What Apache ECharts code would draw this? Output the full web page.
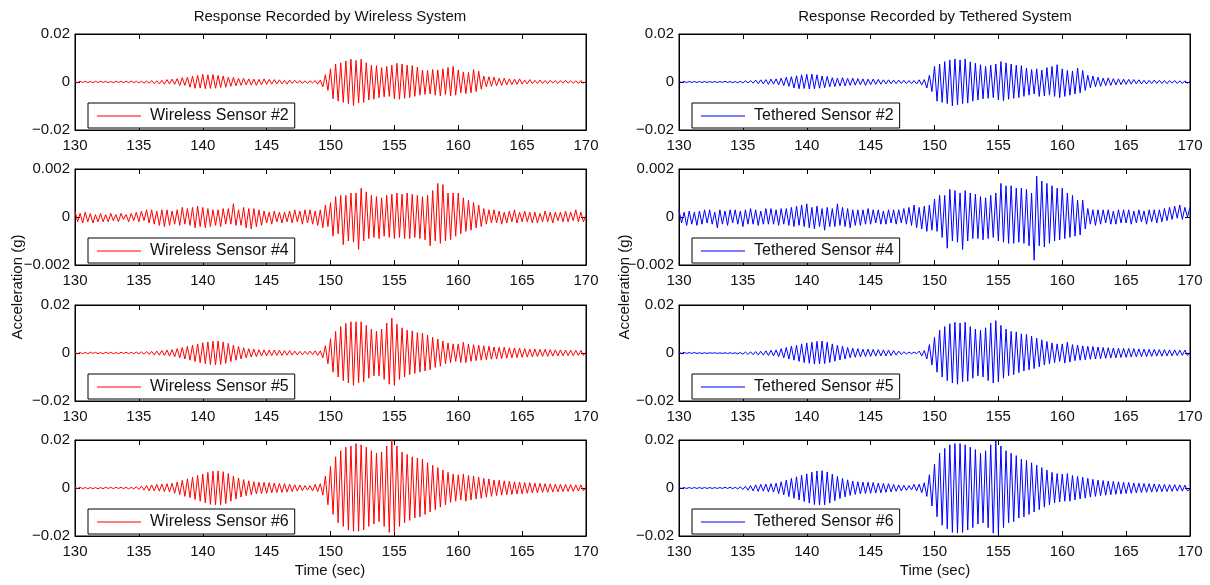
<!DOCTYPE html>
<html><head><meta charset="utf-8">
<script src="https://cdn.jsdelivr.net/npm/echarts@6/dist/echarts.min.js"></script>
<style>html,body{margin:0;padding:0;background:#fff}#c{width:1210px;height:585px}</style>
</head><body><div id="c"></div>
<script>
// Sampling grid of the records (seconds)
const timeStart = 130, timeStep = 0.2;
const xTickLabels = [130, 135, 140, 145, 150, 155, 160, 165, 170];
const yTicksLarge = [-0.02, 0, 0.02];
const yTicksSmall = [-0.002, 0, 0.002];
const MG = 0.001; // values below are in milli-g

const wireless2 = [
 0.2,-0.3,0.3,-0.2,0.3, -0.3,0.2,-0.3,0.3,-0.2, 0.3,-0.2,0.3,-0.3,0.2, -0.3,0.3,-0.2,0.3,-0.3,
 0.3,-0.3,0.4,-0.3,0.3, -0.4,0.3,-0.5,0.4,-0.5, 0.6,-0.7,0.5,-0.8,0.7, -0.9,1.0,-0.8,1.2,-1.0,
 1.4,-1.5,1.8,-1.4,2.0, -2.2,2.4,-2.6,2.8,-2.5, 3.2,-2.8,3.0,-2.7,3.1, -2.6,2.7,-2.3,2.5,-2.2,
 2.0,-1.8,1.9,-1.6,1.5, -1.4,1.5,-1.2,1.3,-1.3, 1.2,-1.4,1.1,-1.2,1.3, -1.0,1.1,-0.9,1.0,-0.8,
 0.9,-0.8,0.7,-0.9,0.8, -0.6,0.7,-0.5,0.6,-0.6, 0.5,-0.6,0.5,-0.4,0.6, -0.9,0.8,-2.0,3.0,-3.5,
 5.5,-7.0,7.5,-8.0,8.0, -8.5,8.8,-9.0,9.5,-9.8, 9.0,-8.8,9.5,-8.5,8.0, -7.5,7.0,-7.2,6.8,-6.5,
 6.0,-6.2,6.5,-6.0,7.0, -7.0,7.8,-7.2,7.5,-6.8, 7.0,-6.5,6.8,-6.0,6.2, -5.5,5.0,-5.2,4.8,-5.0,
 5.2,-5.5,5.0,-5.8,5.5, -5.2,6.0,-5.8,6.5,-5.5, 5.0,-4.5,4.2,-4.8,4.0, -4.5,5.2,-4.0,4.5,-3.0,
 2.5,-2.0,2.2,-1.8,2.0, -1.6,1.5,-1.4,1.6,-1.2, 1.3,-1.1,1.2,-1.0,1.3, -0.9,0.8,-0.8,1.0,-0.7,
 0.7,-0.6,0.8,-0.6,0.6, -0.6,0.7,-0.5,0.6,-0.6, 0.6,-0.5,0.7,-0.5,0.5, -0.6,0.5,-0.6,0.6,-0.5,
 0.3];
const tethered2 = [
 0.2,-0.2,0.2,-0.2,0.2, -0.2,0.2,-0.2,0.2,-0.2, 0.2,-0.2,0.2,-0.2,0.2, -0.2,0.2,-0.2,0.3,-0.2,
 0.2,-0.3,0.2,-0.3,0.3, -0.4,0.5,-0.4,0.6,-0.5, 0.8,-0.7,0.9,-0.8,1.0, -1.0,1.2,-0.9,1.3,-1.2,
 1.6,-1.5,2.0,-1.8,2.2, -2.5,2.6,-2.8,3.0,-2.7, 3.2,-2.9,3.3,-2.8,3.0, -2.6,2.5,-2.4,2.3,-2.0,
 1.8,-1.9,1.6,-1.7,1.8, -1.6,1.5,-1.4,1.6,-1.3, 1.4,-1.2,1.3,-1.4,1.2, -1.1,1.2,-1.0,1.1,-0.9,
 0.9,-0.8,0.9,-0.7,0.8, -0.7,0.8,-0.6,0.7,-0.7, 0.6,-0.7,0.6,-0.8,0.9, -1.2,1.0,-2.5,2.8,-4.0,
 6.5,-8.0,7.5,-8.5,8.5, -9.0,9.2,-10.0,9.6,-9.5, 9.2,-9.0,9.6,-8.8,8.4, -8.0,7.8,-7.5,7.2,-7.0,
 6.5,-6.8,7.0,-6.5,7.5, -7.5,8.5,-7.8,8.0,-7.2, 7.5,-6.8,7.0,-6.5,6.8, -6.0,5.8,-5.5,5.2,-5.0,
 5.5,-6.0,5.0,-5.8,6.0, -5.5,6.5,-6.0,7.2,-6.5, 5.5,-6.0,4.8,-5.5,4.5, -5.0,5.8,-4.5,4.8,-3.5,
 2.8,-2.4,2.5,-2.0,2.0, -1.8,1.6,-1.5,1.7,-1.4, 1.4,-1.2,1.3,-1.1,1.2, -1.0,1.1,-0.9,1.0,-0.8,
 0.9,-0.8,0.7,-0.8,0.7, -0.7,0.8,-0.6,0.7,-0.6, 0.6,-0.7,0.6,-0.5,0.6, -0.6,0.5,-0.6,0.5,-0.5,
 0.2];
const wireless4 = [
 0.25,-0.2,0.15,-0.25,0.2, -0.2,0.15,-0.25,0.1,-0.2, 0.15,-0.2,0.1,-0.2,0.15, -0.15,0.1,-0.2,0.15,-0.1,
 0.1,-0.2,0.15,-0.15,0.2, -0.2,0.25,-0.15,0.3,-0.25, 0.3,-0.3,0.25,-0.35,0.3, -0.4,0.3,-0.35,0.25,-0.3,
 0.3,-0.35,0.4,-0.3,0.35, -0.35,0.4,-0.45,0.45,-0.4, 0.4,-0.45,0.35,-0.4,0.3, -0.35,0.3,-0.4,0.35,-0.3,
 0.35,-0.3,0.55,-0.35,0.3, -0.35,0.4,-0.45,0.35,-0.5, 0.35,-0.4,0.3,-0.35,0.25, -0.25,0.2,-0.3,0.25,-0.2,
 0.2,-0.25,0.2,-0.2,0.25, -0.25,0.3,-0.2,0.25,-0.3, 0.3,-0.25,0.3,-0.3,0.25, -0.35,0.3,-0.45,0.5,-0.4,
 0.6,-0.8,0.85,-0.7,0.9, -1.15,0.9,-1.0,1.0,-1.05, 1.0,-1.35,1.2,-1.0,1.05, -0.9,0.9,-0.85,0.85,-0.9,
 0.8,-0.8,0.9,-0.85,0.95, -0.9,1.0,-0.85,0.95,-0.9, 1.0,-0.9,0.95,-0.85,0.9, -0.9,0.85,-0.95,0.9,-1.2,
 1.1,-1.0,1.4,-1.1,1.35, -1.0,1.0,-0.95,1.0,-0.8, 1.0,-0.7,0.8,-0.6,0.7, -0.55,0.6,-0.45,0.5,-0.4,
 0.35,-0.3,0.3,-0.25,0.3, -0.25,0.25,-0.3,0.2,-0.25, 0.25,-0.2,0.3,-0.25,0.2, -0.2,0.25,-0.2,0.2,-0.25,
 0.2,-0.25,0.15,-0.2,0.25, -0.2,0.2,-0.25,0.2,-0.15, 0.2,-0.2,0.25,-0.2,0.2, -0.15,0.3,-0.2,0.2,-0.2,
 0.1];
const tethered4 = [
 0.3,-0.25,0.2,-0.35,0.25, -0.3,0.2,-0.35,0.25,-0.3, 0.3,-0.25,0.3,-0.3,0.2, -0.45,0.3,-0.3,0.25,-0.35,
 0.3,-0.25,0.3,-0.3,0.25, -0.4,0.3,-0.3,0.35,-0.3, 0.3,-0.35,0.25,-0.3,0.35, -0.3,0.35,-0.3,0.3,-0.35,
 0.35,-0.3,0.35,-0.35,0.4, -0.4,0.45,-0.35,0.5,-0.4, 0.55,-0.45,0.4,-0.5,0.45, -0.4,0.35,-0.55,0.4,-0.4,
 0.35,-0.4,0.55,-0.35,0.4, -0.4,0.35,-0.45,0.3,-0.35, 0.3,-0.35,0.3,-0.3,0.35, -0.3,0.3,-0.25,0.3,-0.3,
 0.25,-0.3,0.3,-0.25,0.3, -0.3,0.3,-0.25,0.35,-0.3, 0.4,-0.35,0.5,-0.45,0.4, -0.5,0.45,-0.6,0.5,-0.55,
 0.75,-0.6,0.9,-0.85,0.9, -1.3,1.15,-1.0,1.1,-1.05, 1.0,-1.35,1.1,-1.0,1.0, -0.9,0.95,-0.9,0.85,-0.95,
 0.8,-0.9,0.9,-0.85,1.0, -1.0,1.4,-1.05,1.3,-1.1, 1.3,-1.1,1.2,-1.05,1.2, -1.1,1.15,-1.2,1.0,-1.8,
 1.7,-1.2,1.5,-1.25,1.4, -1.1,1.3,-1.0,1.2,-0.95, 1.2,-0.9,1.0,-0.85,0.9, -0.8,0.7,-0.75,0.7,-0.5,
 0.35,-0.3,0.3,-0.35,0.3, -0.3,0.3,-0.25,0.3,-0.3, 0.25,-0.3,0.3,-0.25,0.3, -0.25,0.3,-0.3,0.25,-0.25,
 0.3,-0.2,0.25,-0.3,0.3, -0.2,0.3,-0.25,0.3,-0.2, 0.35,-0.15,0.4,-0.1,0.45, -0.05,0.5,-0.1,0.4,0.0,
 0.4];
const wireless5 = [
 0.3,-0.3,0.2,-0.3,0.3, -0.3,0.3,-0.2,0.3,-0.3, 0.2,-0.3,0.3,-0.2,0.3, -0.3,0.2,-0.3,0.3,-0.2,
 0.3,-0.3,0.3,-0.3,0.4, -0.4,0.5,-0.5,0.6,-0.6, 0.7,-0.8,0.8,-0.9,1.0, -1.0,1.2,-1.3,1.4,-1.6,
 1.8,-2.0,2.3,-2.5,2.8, -3.0,3.3,-3.6,3.8,-4.0, 4.3,-4.5,4.6,-4.8,4.9, -5.0,5.0,-4.8,4.6,-4.3,
 4.0,-3.6,3.3,-3.0,2.7, -2.5,2.2,-2.0,1.8,-1.7, 1.6,-1.5,1.4,-1.3,1.3, -1.2,1.2,-1.1,1.2,-1.0,
 1.1,-1.0,1.0,-0.9,1.0, -0.9,0.8,-0.8,0.7,-0.8, 0.7,-0.6,0.8,-0.7,0.9, -1.0,0.9,-2.0,3.0,-4.5,
 6.0,-8.0,9.0,-10.0,11.0, -11.5,12.3,-12.5,13.0,-13.5, 13.0,-12.5,13.0,-12.0,11.5, -10.5,10.0,-9.5,9.0,-9.5,
 10.0,-11.0,12.5,-13.0,14.5, -13.5,12.0,-11.0,10.5,-10.0, 9.5,-9.0,9.2,-8.5,8.5, -8.0,8.2,-7.5,7.5,-7.0,
 6.5,-6.0,5.8,-5.5,5.0, -4.5,4.2,-4.0,3.8,-3.5, 3.8,-4.0,4.5,-4.0,3.8, -3.5,3.5,-3.2,3.3,-3.0,
 3.0,-2.8,2.8,-2.6,2.5, -2.5,2.4,-2.3,2.4,-2.2, 2.2,-2.0,2.1,-1.9,2.0, -1.8,1.8,-1.7,1.6,-1.6,
 1.6,-1.5,1.5,-1.4,1.5, -1.4,1.4,-1.3,1.3,-1.2, 1.3,-1.2,1.2,-1.1,1.2, -1.1,1.1,-1.0,1.1,-1.0,
 0.5];
const tethered5 = [
 0.3,-0.2,0.3,-0.2,0.2, -0.2,0.2,-0.2,0.1,-0.2, 0.1,-0.2,0.1,-0.1,0.1, -0.2,0.1,-0.2,0.1,-0.2,
 0.1,-0.2,0.1,-0.3,0.2, -0.5,0.4,-0.6,0.5,-0.7, 0.6,-0.8,0.7,-0.9,0.9, -1.0,1.1,-1.2,1.3,-1.5,
 1.8,-2.0,2.3,-2.5,2.8, -3.0,3.2,-3.5,3.8,-4.0, 4.2,-4.3,4.5,-4.6,4.8, -4.5,5.0,-4.4,4.5,-4.0,
 3.8,-3.4,3.2,-2.9,2.8, -2.5,2.3,-2.0,2.0,-1.8, 1.8,-1.6,1.6,-1.5,1.6, -1.4,1.5,-1.3,1.4,-1.2,
 1.3,-1.2,1.2,-1.1,1.0, -0.9,0.8,-0.6,0.5,-0.4, 0.4,-0.3,0.4,-0.3,0.8, -1.2,1.0,-2.5,3.5,-5.0,
 6.5,-8.0,9.5,-10.0,11.0, -11.5,12.2,-12.5,12.8,-13.0, 12.5,-12.0,12.8,-11.8,11.0, -10.5,10.0,-9.5,9.5,-10.0,
 10.5,-11.5,12.5,-12.5,13.5, -12.0,11.5,-10.5,10.0,-9.5, 9.0,-9.0,8.8,-8.2,8.0, -7.5,7.8,-7.0,7.0,-6.5,
 6.2,-5.8,5.5,-5.0,4.8, -4.5,4.2,-4.0,3.8,-3.5, 3.8,-4.2,4.5,-3.8,3.5, -3.2,3.3,-3.0,3.0,-2.8,
 2.8,-2.6,2.7,-2.5,2.5, -2.4,2.3,-2.2,2.2,-2.1, 2.1,-2.0,2.0,-1.9,1.9, -1.8,1.9,-1.7,1.8,-1.6,
 1.7,-1.5,1.6,-1.5,1.5, -1.4,1.5,-1.3,1.4,-1.3, 1.4,-1.2,1.3,-1.2,1.3, -1.1,1.2,-1.0,1.2,-1.0,
 0.3];
const wireless6 = [
 0.3,-0.2,0.3,-0.3,0.2, -0.3,0.2,-0.3,0.2,-0.3, 0.2,-0.3,0.3,-0.2,0.3, -0.3,0.3,-0.2,0.3,-0.3,
 0.3,-0.4,0.3,-0.4,0.5, -0.6,0.8,-0.9,1.0,-1.2, 1.3,-1.2,1.5,-1.3,1.6, -1.5,1.8,-1.6,2.0,-2.2,
 2.5,-2.8,3.2,-3.5,3.8, -4.0,4.5,-4.8,5.2,-5.5, 5.8,-6.2,6.5,-6.8,7.0, -7.0,7.1,-7.0,6.8,-6.5,
 6.0,-5.5,5.0,-4.6,4.2, -3.8,3.5,-3.2,3.0,-2.8, 2.6,-2.5,2.4,-2.3,2.3, -2.2,2.2,-2.0,2.1,-1.9,
 1.9,-1.8,1.8,-1.7,1.6, -1.5,1.4,-1.3,1.2,-1.1, 1.0,-0.9,1.0,-1.2,1.5, -1.5,1.8,-3.0,5.0,-7.0,
 9.0,-11.0,13.0,-14.5,15.5, -16.0,17.0,-17.5,17.5,-18.0, 18.5,-18.0,18.0,-17.5,17.0, -16.0,15.5,-15.0,14.5,-14.0,
 15.0,-16.0,17.5,-18.5,20.0, -18.5,17.5,-16.0,15.0,-14.5, 14.0,-13.5,13.0,-12.5,12.5, -12.0,12.0,-11.0,10.5,-10.0,
 9.5,-9.0,8.5,-8.0,7.5, -7.0,6.5,-6.0,5.8,-5.5, 5.5,-5.0,5.8,-5.5,5.2, -5.0,5.0,-4.6,4.5,-4.3,
 4.0,-3.8,3.8,-3.5,3.3, -3.2,3.2,-3.0,3.0,-2.8, 2.8,-2.7,2.6,-2.5,2.5, -2.4,2.3,-2.2,2.2,-2.1,
 2.0,-2.0,1.9,-1.8,1.8, -1.8,1.7,-1.7,1.6,-1.6, 1.5,-1.5,1.5,-1.4,1.4, -1.4,1.3,-1.3,1.3,-1.2,
 0.5];
const tethered6 = [
 0.2,-0.2,0.2,-0.2,0.2, -0.2,0.2,-0.2,0.2,-0.2, 0.2,-0.2,0.2,-0.2,0.2, -0.2,0.2,-0.2,0.3,-0.2,
 0.3,-0.3,0.3,-0.4,0.5, -0.6,0.7,-0.9,1.0,-1.2, 1.3,-1.4,1.5,-1.3,1.6, -1.6,1.8,-1.7,2.0,-2.3,
 2.6,-2.9,3.3,-3.6,4.0, -4.3,4.7,-5.0,5.3,-5.6, 5.9,-6.3,6.6,-6.9,7.1, -7.1,7.2,-7.0,6.7,-6.3,
 5.8,-5.3,4.8,-4.4,4.0, -3.7,3.4,-3.1,2.9,-2.7, 2.6,-2.5,2.5,-2.3,2.4, -2.2,2.3,-2.1,2.1,-2.0,
 1.9,-1.8,1.8,-1.6,1.5, -1.4,1.3,-1.2,1.1,-1.0, 1.0,-0.8,1.5,-1.2,1.6, -2.0,2.2,-3.5,5.5,-7.5,
 10.0,-12.0,14.5,-15.5,16.5, -17.0,18.0,-18.5,18.5,-18.8, 18.5,-18.5,18.0,-17.5,17.0, -16.5,16.0,-15.0,14.5,-14.5,
 15.5,-16.5,18.0,-18.8,20.0, -19.0,17.5,-16.5,15.5,-14.5, 14.5,-14.0,13.5,-12.5,12.0, -12.0,11.5,-11.0,10.5,-10.0,
 9.5,-9.0,8.5,-8.0,7.5, -7.0,6.5,-6.2,6.0,-5.8, 5.8,-5.5,6.0,-5.5,5.2, -5.0,4.8,-4.6,4.5,-4.2,
 4.0,-3.8,3.6,-3.5,3.3, -3.2,3.1,-3.0,2.9,-2.8, 2.8,-2.6,2.6,-2.5,2.4, -2.3,2.3,-2.2,2.1,-2.1,
 2.0,-1.9,1.9,-1.8,1.8, -1.7,1.7,-1.6,1.6,-1.5, 1.5,-1.5,1.4,-1.4,1.4, -1.3,1.3,-1.3,1.2,-1.2,
 -0.5];

const panels = [
  {name:'Wireless Sensor #2', data:wireless2, col:0, row:0, ticks:yTicksLarge, color:'#ff0000'},
  {name:'Wireless Sensor #4', data:wireless4, col:0, row:1, ticks:yTicksSmall, color:'#ff0000'},
  {name:'Wireless Sensor #5', data:wireless5, col:0, row:2, ticks:yTicksLarge, color:'#ff0000'},
  {name:'Wireless Sensor #6', data:wireless6, col:0, row:3, ticks:yTicksLarge, color:'#ff0000'},
  {name:'Tethered Sensor #2', data:tethered2, col:1, row:0, ticks:yTicksLarge, color:'#0000ff'},
  {name:'Tethered Sensor #4', data:tethered4, col:1, row:1, ticks:yTicksSmall, color:'#0000ff'},
  {name:'Tethered Sensor #5', data:tethered5, col:1, row:2, ticks:yTicksLarge, color:'#0000ff'},
  {name:'Tethered Sensor #6', data:tethered6, col:1, row:3, ticks:yTicksLarge, color:'#0000ff'}
];

const FONT = "'Liberation Sans', Arial, Helvetica, sans-serif";
const TXT = '#111';
const colLeft = [75, 679], plotW = 511;
const rowTop = [34, 169, 305, 440], plotH = 96;

function fmtY(v){
  if (Math.abs(v) < 1e-12) return '0';
  const s = String(+Math.abs(v).toPrecision(6));
  return (v < 0 ? '\u2212' : '') + s;
}

const grid = [], xAxis = [], yAxis = [], series = [], legend = [];
panels.forEach((p, i) => {
  grid.push({left: colLeft[p.col], top: rowTop[p.row], width: plotW, height: plotH,
    show: true, borderColor: '#000', borderWidth: 1, backgroundColor: '#fff', containLabel: false});
  const xBase = {gridIndex: i, type: 'value', min: xTickLabels[0], max: xTickLabels[xTickLabels.length-1], interval: 5,
    splitLine: {show: false}, axisLine: {show: true, onZero: false, lineStyle: {color: '#000', width: 1}},
    axisTick: {show: true, inside: true, length: 5, lineStyle: {color: '#000'}}};
  xAxis.push(Object.assign({}, xBase, {position: 'bottom',
    axisLabel: {show: true, color: TXT, fontSize: 15, fontFamily: FONT, margin: 8}}));
  xAxis.push(Object.assign({}, xBase, {position: 'top', axisLabel: {show: false}}));
  const yMin = p.ticks[0], yMax = p.ticks[p.ticks.length-1];
  const yBase = {gridIndex: i, type: 'value', min: yMin, max: yMax, interval: yMax,
    splitLine: {show: false}, axisLine: {show: true, onZero: false, lineStyle: {color: '#000', width: 1}},
    axisTick: {show: true, inside: true, length: 5, lineStyle: {color: '#000'}}};
  yAxis.push(Object.assign({}, yBase, {position: 'left',
    axisLabel: {show: true, color: TXT, fontSize: 15, fontFamily: FONT, margin: 5, formatter: fmtY}}));
  yAxis.push(Object.assign({}, yBase, {position: 'right', axisLabel: {show: false}}));
  series.push({name: p.name, type: 'line', xAxisIndex: 2*i, yAxisIndex: 2*i,
    data: p.data.map((v, k) => [timeStart + k*timeStep, v*MG]),
    symbol: 'none', showSymbol: false, sampling: false, animation: false,
    lineStyle: {color: p.color, width: 1}, itemStyle: {color: p.color}});
  legend.push({data: [{name: p.name, icon: 'rect'}], left: colLeft[p.col] + 13, top: rowTop[p.row] + 69,
    orient: 'horizontal', itemWidth: 44, itemHeight: 1, itemGap: 0,
    padding: [4, 6, 3, 9], borderColor: '#000', borderWidth: 1, backgroundColor: '#fff',
    selectedMode: false,
    textStyle: {color: TXT, fontSize: 16, fontFamily: FONT, padding: [0, 0, 0, 4], lineHeight: 18}});
});

const graphic = [
  {type: 'text', x: 330, y: 17, style: {text: 'Response Recorded by Wireless System', font: '15px ' + FONT, fill: TXT, textAlign: 'center', textVerticalAlign: 'middle'}},
  {type: 'text', x: 935, y: 17, style: {text: 'Response Recorded by Tethered System', font: '15px ' + FONT, fill: TXT, textAlign: 'center', textVerticalAlign: 'middle'}},
  {type: 'text', x: 330, y: 571, style: {text: 'Time (sec)', font: '15px ' + FONT, fill: TXT, textAlign: 'center', textVerticalAlign: 'middle'}},
  {type: 'text', x: 935, y: 571, style: {text: 'Time (sec)', font: '15px ' + FONT, fill: TXT, textAlign: 'center', textVerticalAlign: 'middle'}},
  {type: 'text', x: 18, y: 287, rotation: Math.PI/2, style: {text: 'Acceleration (g)', font: '15px ' + FONT, fill: TXT, textAlign: 'center', textVerticalAlign: 'middle'}},
  {type: 'text', x: 625, y: 287, rotation: Math.PI/2, style: {text: 'Acceleration (g)', font: '15px ' + FONT, fill: TXT, textAlign: 'center', textVerticalAlign: 'middle'}}
];

const chart = echarts.init(document.getElementById('c'), null, {renderer: 'canvas'});
chart.setOption({animation: false, backgroundColor: '#fff', grid, xAxis, yAxis, series, legend, graphic});
</script>
</body></html>
